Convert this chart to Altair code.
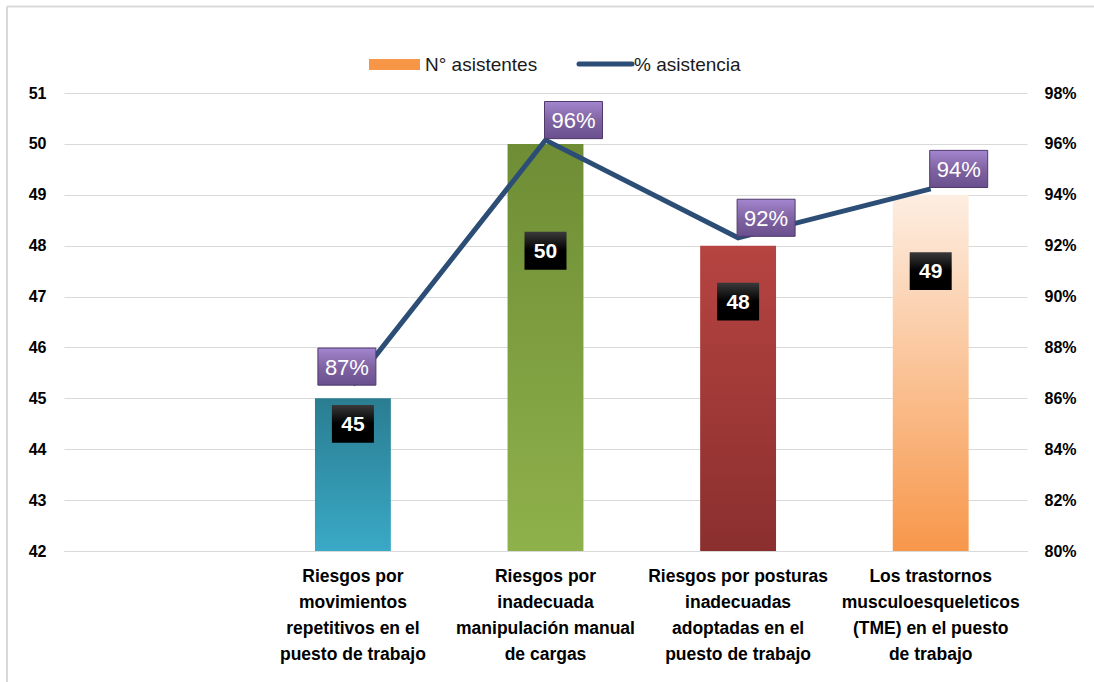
import altair as alt
import pandas as pd

categories = [
    " ",
    "Riesgos por\nmovimientos\nrepetitivos en el\npuesto de trabajo",
    "Riesgos por\ninadecuada\nmanipulación manual\nde cargas",
    "Riesgos por posturas\ninadecuadas\nadoptadas en el\npuesto de trabajo",
    "Los trastornos\nmusculoesqueleticos\n(TME) en el puesto\nde trabajo",
]
bar_cats = categories[1:]
asistentes = [45, 50, 48, 49]
pct_asistencia = [0.8654, 0.9615, 0.9231, 0.9423]
label_level = [44.5, 47.9, 46.9, 47.5]
series_names = ["N° asistentes", "% asistencia"]
left_ticks = [42, 43, 44, 45, 46, 47, 48, 49, 50, 51]
right_ticks = [0.80, 0.82, 0.84, 0.86, 0.88, 0.90, 0.92, 0.94, 0.96, 0.98]
bar_gradients = [
    ("#2a7d91", "#3aa9c6"),
    ("#6e8d35", "#8fb14b"),
    ("#b64441", "#8a2f2e"),
    ("#fdeee2", "#f7974a"),
]

W, H = 963, 458
FONT = "Liberation Sans"

df = pd.DataFrame({
    "cat": bar_cats,
    "n": asistentes,
    "pct": pct_asistencia,
    "lbl": label_level,
})

xaxis = alt.Axis(
    title=None, labelAngle=0, ticks=False, domain=True, domainColor="#d9d9d9",
    labelFont=FONT, labelFontSize=17.5, labelFontWeight="bold", labelColor="#000000",
    labelLineHeight=26, labelPadding=16, labelLimit=0,
    labelExpr="split(datum.label, '\\n')",
)
xenc = alt.X(
    "cat:N",
    sort=categories,
    scale=alt.Scale(domain=categories, paddingInner=0.606, paddingOuter=0.303),
    axis=xaxis,
)

yscale = alt.Scale(domain=[42, 51], zero=False, nice=False)
pscale = alt.Scale(domain=[0.80, 0.98], zero=False, nice=False)

base = alt.Chart(df)

layers = []

# bars, each with its own gradient
for i, c in enumerate(bar_cats):
    top, bottom = bar_gradients[i]
    b = base.transform_filter(alt.datum.cat == c).mark_bar(
        fill=alt.Gradient(
            gradient="linear", x1=0, y1=0, x2=0, y2=1,
            stops=[alt.GradientStop(color=top, offset=0), alt.GradientStop(color=bottom, offset=1)],
        )
    ).encode(
        x=xenc,
        y=alt.Y("n:Q", scale=yscale,
                axis=alt.Axis(
                    title=None, values=left_ticks, grid=True, gridColor="#d9d9d9",
                    domain=False, ticks=False, labelPadding=18, labelFont=FONT,
                    labelFontSize=16, labelFontWeight="bold", labelColor="#000000",
                ) if i == 0 else None),
        y2=alt.datum(42),
    )
    layers.append(b)

# line
line = base.mark_line(color="#2c4d75", strokeWidth=5).encode(
    x=xenc,
    y=alt.Y("pct:Q", scale=pscale,
            axis=alt.Axis(
                title=None, orient="right", values=right_ticks, format=".0%",
                grid=False, domain=False, ticks=False, labelPadding=17, labelFont=FONT,
                labelFontSize=16, labelFontWeight="bold", labelColor="#000000",
            )),
)
layers.append(line)

# black number boxes
nbox = base.mark_point(
    shape="M-1,-0.9L1,-0.9L1,0.9L-1,0.9Z", size=1764, filled=True, opacity=1,
    fill=alt.Gradient(
        gradient="linear", x1=0, y1=0, x2=0, y2=1,
        stops=[alt.GradientStop(color="#3a3a3a", offset=0), alt.GradientStop(color="#000000", offset=0.5),
               alt.GradientStop(color="#000000", offset=1)],
    ),
).encode(x=xenc, y=alt.Y("lbl:Q", scale=yscale, axis=None))
ntext = base.mark_text(font=FONT, fontSize=21, fontWeight="bold", color="#ffffff", baseline="middle", dy=1).encode(
    x=xenc, y=alt.Y("lbl:Q", scale=yscale, axis=None), text=alt.Text("n:Q"))
layers += [nbox, ntext]

# purple percent boxes
purple = alt.Gradient(
    gradient="linear", x1=0, y1=0, x2=0, y2=1,
    stops=[alt.GradientStop(color="#a386cf", offset=0), alt.GradientStop(color="#8064a2", offset=0.5),
           alt.GradientStop(color="#6a4f8e", offset=1)],
)
for sel, dx, dy in [(alt.datum.cat == bar_cats[0], -6, -18), (alt.datum.cat != bar_cats[0], 28, -20)]:
    pb = base.transform_filter(sel).mark_point(
        shape="M-1,-0.64L1,-0.64L1,0.64L-1,0.64Z", size=3364, filled=True, opacity=1,
        fill=purple, stroke="#4f3a6b", strokeWidth=1, xOffset=dx, yOffset=dy,
    ).encode(x=xenc, y=alt.Y("pct:Q", scale=pscale, axis=None))
    pt = base.transform_filter(sel).mark_text(
        font=FONT, fontSize=22, color="#ffffff", baseline="middle", dx=dx, dy=dy + 1,
    ).encode(x=xenc, y=alt.Y("pct:Q", scale=pscale, axis=None), text=alt.Text("pct:Q", format=".0%"))
    layers += [pb, pt]

# legend (manual)
leg = pd.DataFrame({"name": series_names})
leg_rect = alt.Chart(leg).transform_filter(alt.datum.name == series_names[0]).mark_rect(color="#f79646").encode(
    x=alt.value(305), x2=alt.value(356), y=alt.value(-34), y2=alt.value(-23))
leg_line = alt.Chart(leg).transform_filter(alt.datum.name == series_names[1]).mark_rule(
    color="#2c4d75", strokeWidth=5, strokeCap="round").encode(
    x=alt.value(515), x2=alt.value(568), y=alt.value(-29))
leg_t1 = alt.Chart(leg).transform_filter(alt.datum.name == series_names[0]).mark_text(
    font=FONT, fontSize=19, align="left", baseline="middle", color="#1a1a1a").encode(
    x=alt.value(361), y=alt.value(-28), text="name:N")
leg_t2 = alt.Chart(leg).transform_filter(alt.datum.name == series_names[1]).mark_text(
    font=FONT, fontSize=19, align="left", baseline="middle", color="#1a1a1a").encode(
    x=alt.value(570), y=alt.value(-28), text="name:N")
frame_top = alt.Chart(leg).transform_filter(alt.datum.name == series_names[0]).mark_rule(
    color="#d9d9d9", strokeWidth=2).encode(
    x=alt.value(-57), x2=alt.value(1030), y=alt.value(-86.5))
frame_left = alt.Chart(leg).transform_filter(alt.datum.name == series_names[0]).mark_rule(
    color="#d9d9d9", strokeWidth=2).encode(
    x=alt.value(-57), y=alt.value(-86.5), y2=alt.value(589))
layers += [leg_rect, leg_line, leg_t1, leg_t2, frame_top, frame_left]

chart = alt.layer(*layers).resolve_scale(y="independent").properties(
    width=W, height=H,
    autosize=alt.AutoSizeParams(type="none"),
    padding={"left": 64, "top": 93, "right": 67, "bottom": 131},
    background="#ffffff",
).configure_view(stroke=None)

chart.save("out.html", embed_options={"renderer": "svg", "actions": False})
